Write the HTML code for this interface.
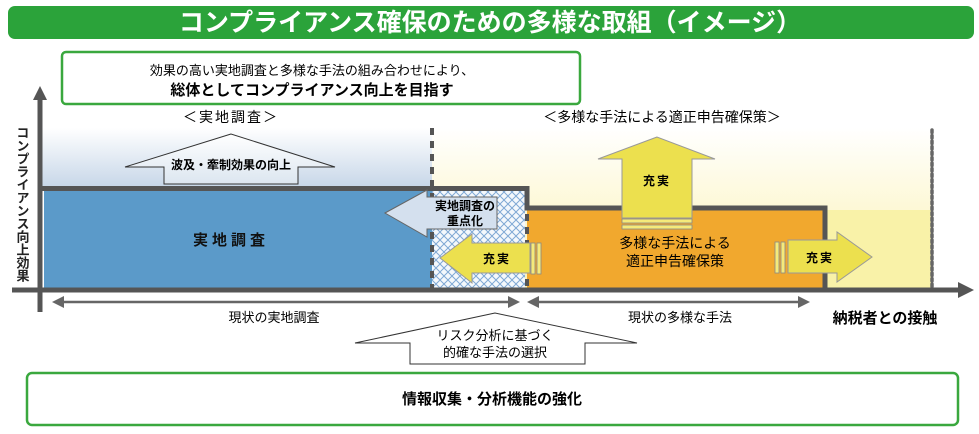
<!DOCTYPE html>
<html><head><meta charset="utf-8"><style>
html,body{margin:0;padding:0;background:#fff;}
svg{display:block;font-family:"Liberation Sans","Noto Sans CJK JP",sans-serif;}
</style></head><body>
<svg width="979" height="434" viewBox="0 0 979 434" xmlns="http://www.w3.org/2000/svg">
<defs>
<linearGradient id="bg1" x1="0" y1="0" x2="0" y2="1"><stop offset="0" stop-color="#ffffff"/><stop offset="1" stop-color="#c6d6e8"/></linearGradient>
<linearGradient id="bg2" x1="0" y1="0" x2="0" y2="1"><stop offset="0" stop-color="#ffffff"/><stop offset="0.5" stop-color="#fdf8d6"/><stop offset="1" stop-color="#fbf2b8"/></linearGradient>
<linearGradient id="ar1" x1="0" y1="0" x2="0" y2="1"><stop offset="0" stop-color="#ffffff"/><stop offset="1" stop-color="#dce6f0"/></linearGradient>
<pattern id="hatch" width="8" height="8" patternUnits="userSpaceOnUse">
<rect width="8" height="8" fill="#f4f8fc"/>
<path d="M0 0L8 8M8 0L0 8" stroke="#7fa8d4" stroke-width="1"/>
</pattern>
</defs>
<rect x="8" y="6" width="966" height="33" rx="7" fill="#2ba33a"/>
<text x="490" y="31" font-size="25" fill="#fff" text-anchor="middle" font-weight="bold">コンプライアンス確保のための多様な取組（イメージ）</text>
<rect x="62" y="52" width="518" height="52" rx="4" fill="#fff" stroke="#3aa83e" stroke-width="2.5"/>
<text x="312" y="75" font-size="13" text-anchor="middle">効果の高い実地調査と多様な手法の組み合わせにより、</text>
<text x="312" y="95" font-size="15" font-weight="bold" text-anchor="middle">総体としてコンプライアンス向上を目指す</text>
<rect x="42" y="128" width="390" height="60" fill="url(#bg1)"/>
<rect x="432" y="128" width="500" height="162" fill="url(#bg2)"/>
<rect x="825" y="210" width="106" height="80" fill="#f9f2a8"/>
<rect x="44" y="191" width="388" height="97" fill="#5b9ac9"/>
<rect x="432" y="191" width="93" height="97" fill="url(#hatch)"/>
<rect x="527" y="210" width="296" height="78" fill="#f1a82e"/>
<path d="M42 188.5 H527 V208 H825 V290" fill="none" stroke="#555" stroke-width="5"/>
<line x1="432" y1="128" x2="432" y2="290" stroke="#555" stroke-width="4" stroke-dasharray="7,6"/>
<line x1="527" y1="214" x2="527" y2="288" stroke="#555" stroke-width="4" stroke-dasharray="7,6"/>
<line x1="932" y1="130" x2="932" y2="290" stroke="#666" stroke-width="3.5" stroke-dasharray="2.5,3" stroke-linecap="round"/>
<line x1="40" y1="98" x2="40" y2="312" stroke="#555" stroke-width="5"/>
<polygon points="40,86 33,100 47,100" fill="#555"/>
<line x1="12" y1="290" x2="962" y2="290" stroke="#555" stroke-width="5"/>
<polygon points="974,290 958,282 958,298" fill="#555"/>
<text font-size="13" font-weight="bold" fill="#222" style="writing-mode:vertical-rl" x="22" y="126">コンプライアンス向上効果</text>
<text x="231" y="122" font-size="14" text-anchor="middle" letter-spacing="2">＜実地調査＞</text>
<text x="662" y="122" font-size="14" text-anchor="middle">＜多様な手法による適正申告確保策＞</text>
<polygon points="231,134 125,167 164,167 164,184 298,184 298,167 335,167" fill="url(#ar1)" stroke="#333" stroke-width="1"/>
<text x="231" y="169" font-size="12" font-weight="bold" text-anchor="middle">波及・牽制効果の向上</text>
<text x="231" y="245" font-size="15" font-weight="bold" text-anchor="middle" letter-spacing="4" fill="#111">実地調査</text>
<polygon points="385,213 427,190 427,197 497,197 497,229 427,229 427,237" fill="#d4e0ee" stroke="#666" stroke-width="1"/>
<text x="465" y="210" font-size="12" font-weight="bold" text-anchor="middle">実地調査の</text>
<text x="465" y="225" font-size="12" font-weight="bold" text-anchor="middle">重点化</text>
<polygon points="440,258 472,234 472,243 530,243 530,273 472,273 472,283" fill="#ece04e" stroke="#999" stroke-width="1"/>
<rect x="531" y="243" width="4" height="31" fill="#f5ea7a" stroke="#888" stroke-width="0.8"/>
<rect x="537" y="243" width="4" height="31" fill="#f5ea7a" stroke="#888" stroke-width="0.8"/>
<text x="497" y="263" font-size="12" font-weight="bold" text-anchor="middle" letter-spacing="2">充実</text>
<polygon points="657,137 598,159 622,159 622,218 692,218 692,159 715,159" fill="#ece04e" stroke="#999" stroke-width="1"/>
<rect x="622" y="219" width="70" height="4" fill="#f5ea7a" stroke="#888" stroke-width="0.8"/>
<rect x="622" y="225" width="70" height="4" fill="#f5ea7a" stroke="#888" stroke-width="0.8"/>
<text x="657" y="185" font-size="12" font-weight="bold" text-anchor="middle" letter-spacing="2">充実</text>
<text x="675" y="248" font-size="14" text-anchor="middle">多様な手法による</text>
<text x="675" y="266" font-size="14" text-anchor="middle">適正申告確保策</text>
<rect x="775" y="242" width="4" height="31" fill="#f5ea7a" stroke="#888" stroke-width="0.8"/>
<rect x="781" y="242" width="4" height="31" fill="#f5ea7a" stroke="#888" stroke-width="0.8"/>
<polygon points="788,240 837,240 837,232 872,257 837,282 837,273 788,273" fill="#ece04e" stroke="#999" stroke-width="1"/>
<text x="820" y="262" font-size="12" font-weight="bold" text-anchor="middle" letter-spacing="2">充実</text>
<line x1="58" y1="302" x2="512" y2="302" stroke="#666" stroke-width="2.5"/>
<polygon points="52,302 64,296 64,308" fill="#666"/>
<polygon points="520,302 508,296 508,308" fill="#666"/>
<line x1="534" y1="302" x2="802" y2="302" stroke="#666" stroke-width="2.5"/>
<polygon points="527,302 539,296 539,308" fill="#666"/>
<polygon points="810,302 798,296 798,308" fill="#666"/>
<text x="274" y="322" font-size="13" text-anchor="middle">現状の実地調査</text>
<text x="680" y="322" font-size="13" text-anchor="middle">現状の多様な手法</text>
<text x="885" y="323" font-size="15" font-weight="bold" text-anchor="middle">納税者との接触</text>
<polygon points="495,313 355,343 410,343 410,364 585,364 585,343 637,343" fill="#fff" stroke="#333" stroke-width="1"/>
<text x="495" y="340" font-size="13" text-anchor="middle">リスク分析に基づく</text>
<text x="495" y="357" font-size="13" text-anchor="middle">的確な手法の選択</text>
<rect x="27" y="373" width="931" height="52" rx="5" fill="#fff" stroke="#3aa83e" stroke-width="2.5"/>
<text x="492" y="404" font-size="15" font-weight="bold" text-anchor="middle">情報収集・分析機能の強化</text>
</svg>
</body></html>
